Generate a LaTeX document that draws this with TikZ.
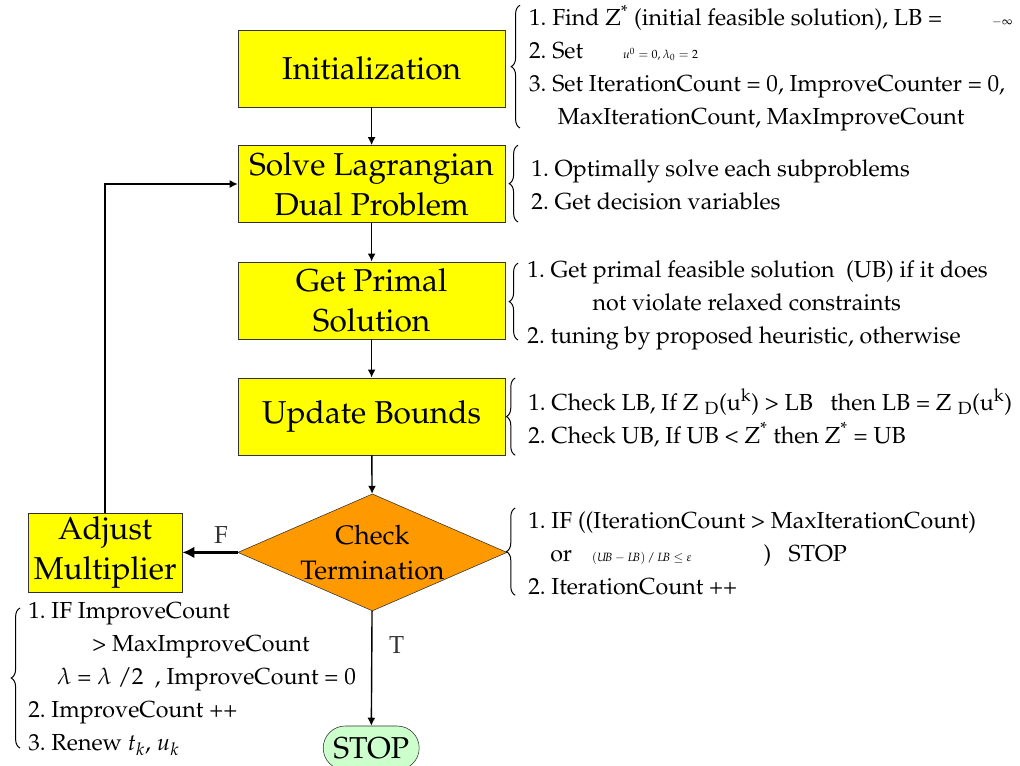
\documentclass[tikz,border=0pt]{standalone}
\usepackage[T1]{fontenc}
\usepackage{mathpazo}
\usepackage{tikz}
\usetikzlibrary{arrows.meta, positioning, shapes.geometric, decorations.pathreplacing}
\definecolor{boxyellow}{RGB}{255,255,0}
\definecolor{testorange}{RGB}{255,153,0}
\definecolor{stopgreen}{RGB}{204,255,204}
\newcommand{\tinymath}[1]{{\fontsize{8.5}{10}\selectfont$#1$}}

\begin{document}
\begin{tikzpicture}[
  proc/.style={rectangle, draw=black!80, fill=boxyellow, minimum width=6.68cm, minimum height=1.93cm, align=center, inner sep=1pt, font=\fontsize{22.5}{28.5}\selectfont},
  decide/.style={diamond, draw=black!80, fill=testorange, minimum width=6.63cm, minimum height=2.88cm, aspect=2.3, align=center, inner sep=0pt, font=\fontsize{19}{24.5}\selectfont},
  term/.style={rectangle, draw=black!80, fill=stopgreen, rounded corners=0.55cm, minimum width=2.4cm, minimum height=1.1cm, font=\fontsize{21.5}{23}\selectfont},
  note/.style={anchor=west, align=left, inner sep=0pt, font=\fontsize{16.5}{23.5}\selectfont},
  flag/.style={font=\fontsize{17.5}{20}\selectfont, text=black!80},
  curly/.style={decorate, decoration={brace, amplitude=0.22cm}, line width=0.7pt},
  arrow/.style={-{Latex[length=2mm, width=2mm]}, line width=1pt},
  thickarrow/.style={-{Latex[length=3mm, width=3mm]}, line width=2.5pt}
]
\useasboundingbox (0,0) rectangle (25.5,-19.125);

% main loop
\node[proc] (init) at (9.29,-1.71) {Initialization};
\node[proc] (solve) at (9.29,-4.6) {Solve Lagrangian\\Dual Problem};
\node[proc] (primal) at (9.29,-7.51) {Get Primal\\Solution};
\node[proc] (update) at (9.29,-10.41) {Update Bounds};
\node[decide] (check) at (9.31,-13.81) {Check\\Termination};
\node[proc, minimum width=3.85cm, minimum height=1.98cm] (adjust) at (2.63,-13.81) {Adjust\\Multiplier};
\node[term] (stop) at (9.28,-18.7) {STOP};

\draw[arrow] (init) -- (solve);
\draw[arrow] (solve) -- (primal);
\draw[arrow] (primal) -- (update);
\draw[arrow] (update) -- (check);
\draw[arrow] (check) -- node[flag, right=0.3cm, pos=0.3] {T} (stop);
\draw[thickarrow] (check) -- node[flag, above=2pt, pos=0.3] {F} (adjust);
\draw[arrow] (adjust.north) |- (solve.west);

% step details
\draw[curly] (13.0,-3.2) -- (13.0,-0.13);
\node[note] (initnote) at (13.22,-1.7) {1.\ Find Z\textsuperscript{*} (initial feasible solution), LB = \hspace{1.1cm}\tinymath{-\infty}\\
2.\ Set \hspace{0.85cm}\tinymath{u^0=0, \lambda_0=2}\\
3.\ Set IterationCount = 0, ImproveCounter = 0,\\
\hspace{0.72cm}MaxIterationCount, MaxImproveCount};

\draw[curly] (12.95,-5.55) -- (12.95,-3.63);
\node[note] (solvenote) at (13.28,-4.61) {1.\ Optimally solve each subproblems\\
2.\ Get decision variables};

\draw[curly] (12.95,-8.5) -- (12.95,-6.58);
\node[note] (primalnote) at (13.18,-7.63) {1.\ Get primal feasible solution\ \ (UB) if it does\\
\hspace{1.63cm}not violate relaxed constraints\\
2.\ tuning by proposed heuristic, otherwise};

\draw[curly] (12.88,-11.38) -- (12.88,-9.45);
\node[note] (updatenote) at (13.2,-10.45) {1.\ Check LB, If Z\;$_{\mathrm{D}}$(u$^{\mathrm{k}}$) > LB\ \ \ then LB = Z\;$_{\mathrm{D}}$(u$^{\mathrm{k}}$)\\
2.\ Check UB, If UB < Z\textsuperscript{*} then Z\textsuperscript{*} = UB};

\draw[curly] (12.88,-14.88) -- (12.88,-12.7);
\node[note] (checknote) at (13.2,-13.83) {1.\ IF ((IterationCount > MaxIterationCount)\\
\hspace{0.55cm}or \hspace{0.35cm}\tinymath{(U\!B-L\!B)\,/\,L\!B\le\varepsilon}\hspace{1.8cm})\ \ \ STOP\\
2.\ IterationCount ++};

\draw[curly] (0.5,-18.7) -- (0.5,-15.2);
\node[note] (adjustnote) at (0.7,-16.98) {1.\ IF ImproveCount\\
\hspace{1.6cm}> MaxImproveCount\\
\hspace{0.72cm}$\lambda$ = $\lambda$ /2\ \ , ImproveCount = 0\\
2.\ ImproveCount ++\\
3.\ Renew $t_k$, $u_k$};
\end{tikzpicture}
\end{document}
